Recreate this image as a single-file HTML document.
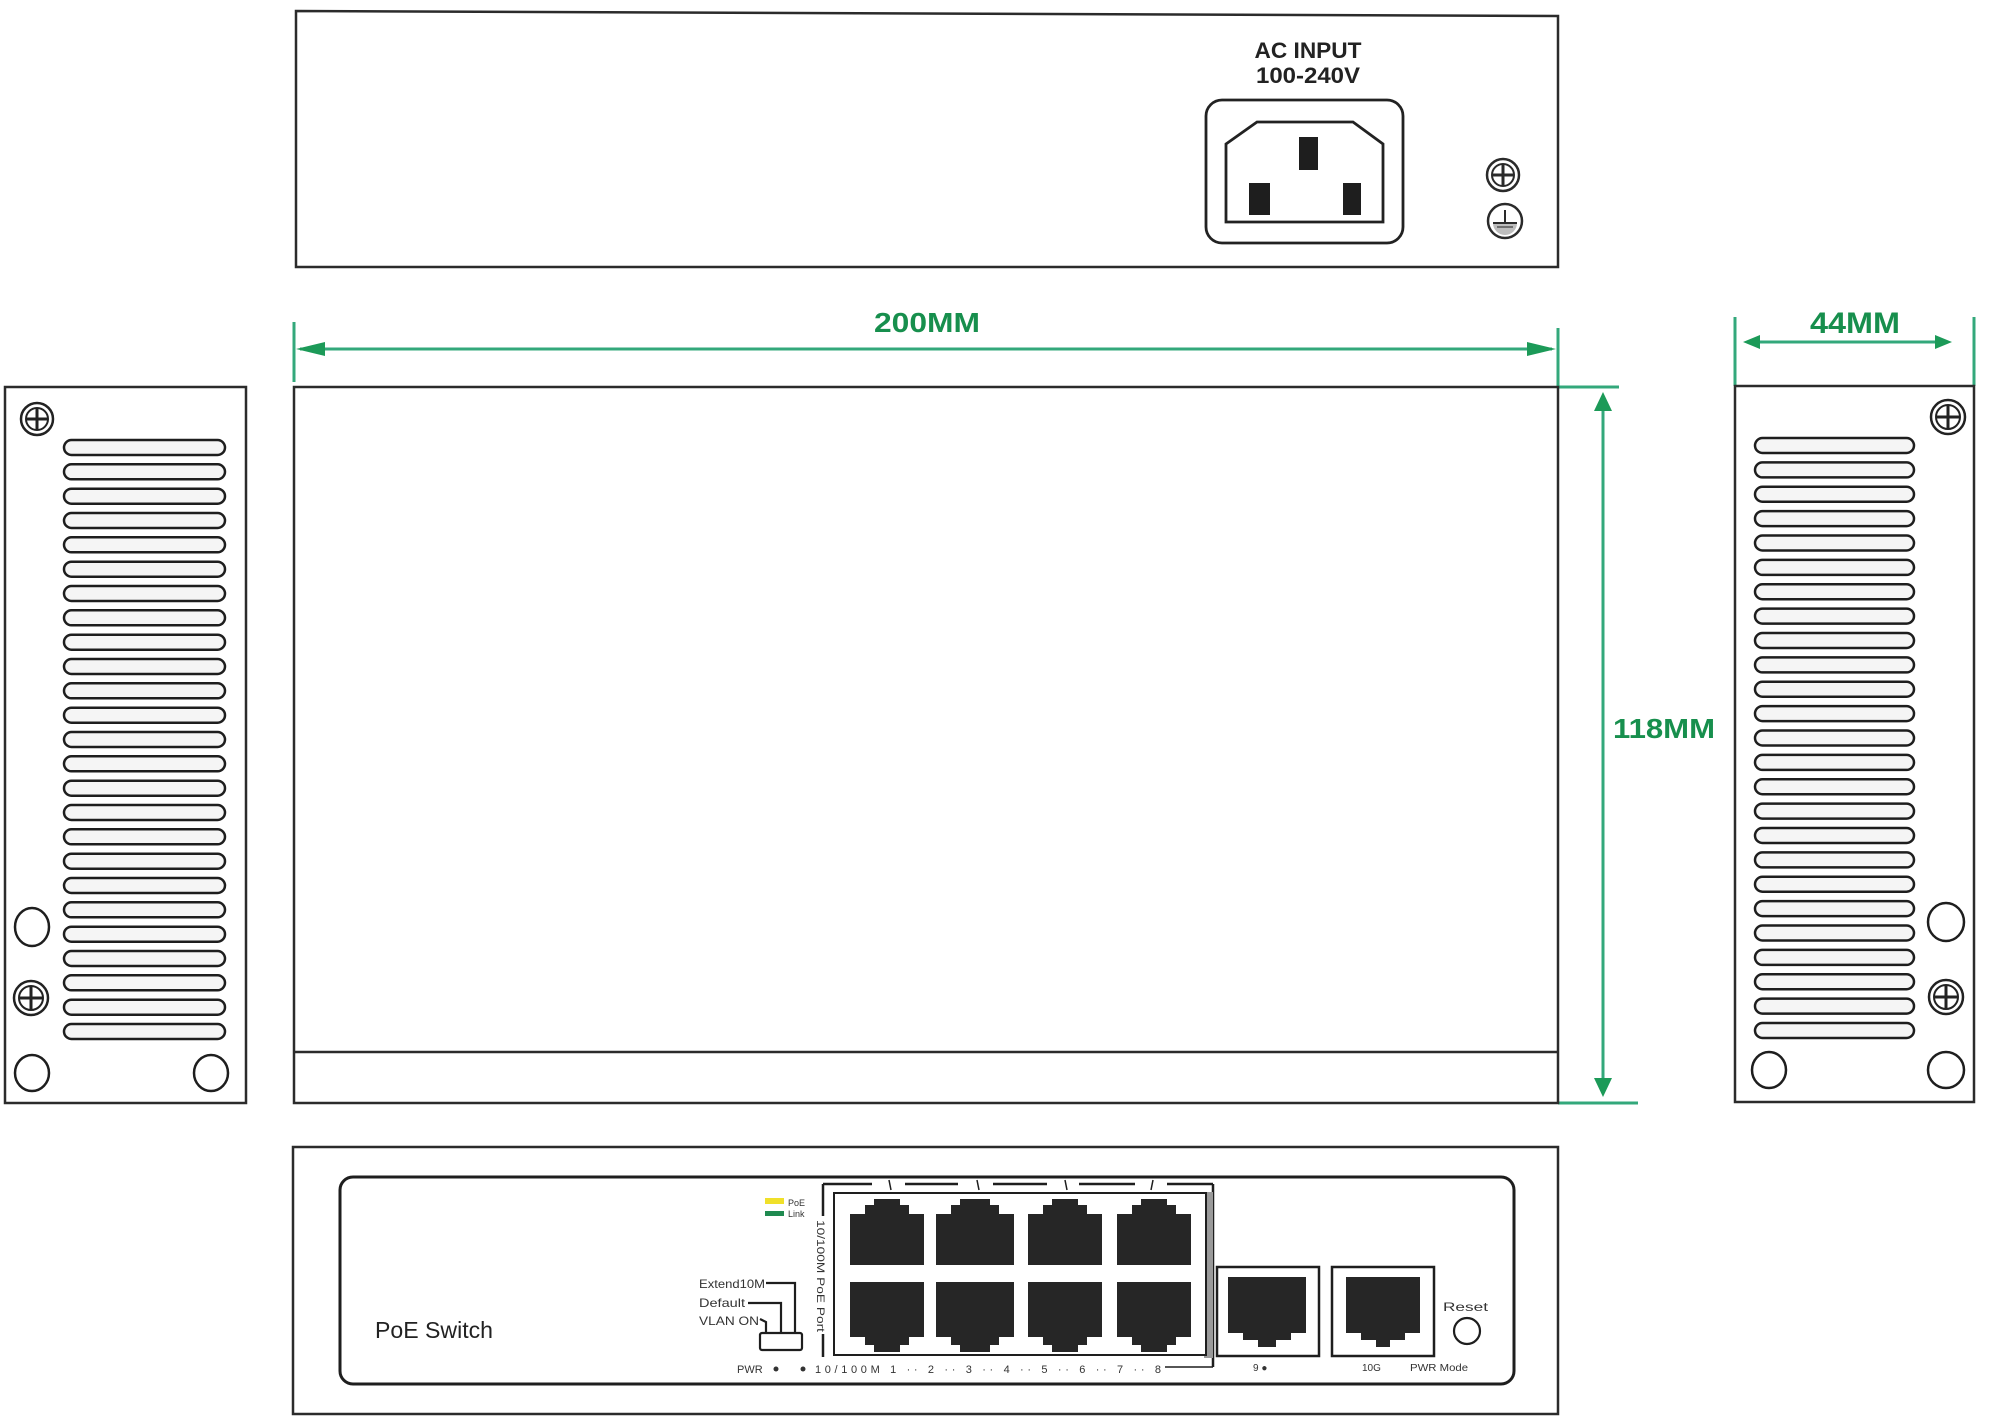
<!DOCTYPE html>
<html>
<head>
<meta charset="utf-8">
<style>
  html,body{margin:0;padding:0;background:#fff;}
  svg{display:block;}
  text{font-family:"Liberation Sans", sans-serif;}
</style>
</head>
<body>
<svg width="2000" height="1427" viewBox="0 0 2000 1427" xmlns="http://www.w3.org/2000/svg">
  <rect x="0" y="0" width="2000" height="1427" fill="#ffffff"/>

  <!-- ============ TOP (REAR) VIEW ============ -->
  <polygon points="296,11 1558,16 1558,267 296,267" fill="#fff" stroke="#2b2b2b" stroke-width="2.5"/>
  <text x="1308" y="58" font-size="22" font-weight="bold" fill="#222" text-anchor="middle" textLength="107" lengthAdjust="spacingAndGlyphs">AC INPUT</text>
  <text x="1308" y="83" font-size="22" font-weight="bold" fill="#222" text-anchor="middle" textLength="104" lengthAdjust="spacingAndGlyphs">100-240V</text>
  <!-- socket -->
  <rect x="1206" y="100" width="197" height="143" rx="16" fill="#fff" stroke="#222" stroke-width="2.8"/>
  <polygon points="1226,144 1257,122 1353,122 1383,144 1383,222 1226,222" fill="#fff" stroke="#222" stroke-width="2.8"/>
  <rect x="1299" y="137" width="19" height="33" fill="#1e1e1e"/>
  <rect x="1249" y="183" width="21" height="32" fill="#1e1e1e"/>
  <rect x="1343" y="183" width="18" height="32" fill="#1e1e1e"/>
  <!-- screw -->
  <g transform="translate(1503,175)">
    <circle r="16" fill="#fff" stroke="#2a2a2a" stroke-width="2.5"/>
    <circle r="11" fill="#fff" stroke="#2a2a2a" stroke-width="2"/>
    <line x1="-10" y1="0" x2="10" y2="0" stroke="#2a2a2a" stroke-width="3"/>
    <line x1="0" y1="-10" x2="0" y2="10" stroke="#2a2a2a" stroke-width="3"/>
  </g>
  <!-- ground -->
  <g transform="translate(1505,221)">
    <circle r="17" fill="#fff" stroke="#2a2a2a" stroke-width="2.5"/>
    <path d="M-12,2 L12,2 A12,12 0 0 1 -12,2 Z" fill="#bdbdbd"/>
    <line x1="0" y1="-11" x2="0" y2="2" stroke="#2a2a2a" stroke-width="2"/>
    <line x1="-12" y1="2" x2="12" y2="2" stroke="#2a2a2a" stroke-width="2"/>
    <line x1="-8" y1="6" x2="8" y2="6" stroke="#555" stroke-width="1.5"/>
  </g>

  <!-- ============ DIMENSIONS ============ -->
  <g stroke="#33a87b" stroke-width="3" fill="none">
    <!-- 200MM -->
    <line x1="294" y1="322" x2="294" y2="382"/>
    <line x1="1558" y1="328" x2="1558" y2="387"/>
    <line x1="300" y1="349" x2="1552" y2="349"/>
    <!-- 44MM -->
    <line x1="1735" y1="317" x2="1735" y2="386"/>
    <line x1="1974" y1="317" x2="1974" y2="386"/>
    <line x1="1748" y1="342" x2="1947" y2="342"/>
    <!-- 118MM -->
    <line x1="1558" y1="387" x2="1619" y2="387"/>
    <line x1="1558" y1="1103" x2="1638" y2="1103"/>
    <line x1="1603" y1="398" x2="1603" y2="1091"/>
  </g>
  <g fill="#1c9a58">
    <polygon points="296,349 325,342 325,356"/>
    <polygon points="1556,349 1527,342 1527,356"/>
    <polygon points="1743,342 1760,335 1760,349"/>
    <polygon points="1952,342 1935,335 1935,349"/>
    <polygon points="1603,392 1594,411 1612,411"/>
    <polygon points="1603,1097 1594,1078 1612,1078"/>
  </g>
  <text x="927" y="332" font-size="28" font-weight="bold" fill="#178f4d" text-anchor="middle" textLength="106" lengthAdjust="spacingAndGlyphs">200MM</text>
  <text x="1855" y="333" font-size="30" font-weight="bold" fill="#178f4d" text-anchor="middle" textLength="90" lengthAdjust="spacingAndGlyphs">44MM</text>
  <text x="1664" y="738" font-size="28" font-weight="bold" fill="#178f4d" text-anchor="middle" textLength="102" lengthAdjust="spacingAndGlyphs">118MM</text>

  <!-- ============ MAIN TOP VIEW ============ -->
  <rect x="294" y="387" width="1264" height="716" fill="#fff" stroke="#2b2b2b" stroke-width="2.5"/>
  <line x1="294" y1="1052" x2="1558" y2="1052" stroke="#2b2b2b" stroke-width="2.5"/>

  <!-- ============ LEFT SIDE PANEL ============ -->
  <rect x="5" y="387" width="241" height="716" fill="#fff" stroke="#2b2b2b" stroke-width="2.5"/>
  <g fill="#f5f5f5" stroke="#1e1e1e" stroke-width="2.5">
    <rect x="64" y="440" width="161" height="15" rx="7.5"/>
    <rect x="64" y="464.3" width="161" height="15" rx="7.5"/>
    <rect x="64" y="488.7" width="161" height="15" rx="7.5"/>
    <rect x="64" y="513" width="161" height="15" rx="7.5"/>
    <rect x="64" y="537.3" width="161" height="15" rx="7.5"/>
    <rect x="64" y="561.7" width="161" height="15" rx="7.5"/>
    <rect x="64" y="586" width="161" height="15" rx="7.5"/>
    <rect x="64" y="610.3" width="161" height="15" rx="7.5"/>
    <rect x="64" y="634.7" width="161" height="15" rx="7.5"/>
    <rect x="64" y="659" width="161" height="15" rx="7.5"/>
    <rect x="64" y="683.3" width="161" height="15" rx="7.5"/>
    <rect x="64" y="707.7" width="161" height="15" rx="7.5"/>
    <rect x="64" y="732" width="161" height="15" rx="7.5"/>
    <rect x="64" y="756.3" width="161" height="15" rx="7.5"/>
    <rect x="64" y="780.7" width="161" height="15" rx="7.5"/>
    <rect x="64" y="805" width="161" height="15" rx="7.5"/>
    <rect x="64" y="829.3" width="161" height="15" rx="7.5"/>
    <rect x="64" y="853.7" width="161" height="15" rx="7.5"/>
    <rect x="64" y="878" width="161" height="15" rx="7.5"/>
    <rect x="64" y="902.3" width="161" height="15" rx="7.5"/>
    <rect x="64" y="926.7" width="161" height="15" rx="7.5"/>
    <rect x="64" y="951" width="161" height="15" rx="7.5"/>
    <rect x="64" y="975.3" width="161" height="15" rx="7.5"/>
    <rect x="64" y="999.7" width="161" height="15" rx="7.5"/>
    <rect x="64" y="1024" width="161" height="15" rx="7.5"/>
  </g>
  <g fill="#fff" stroke="#1e1e1e" stroke-width="2.5">
    <ellipse cx="32" cy="927" rx="17" ry="19"/>
    <ellipse cx="32" cy="1073" rx="17" ry="18"/>
    <ellipse cx="211" cy="1073" rx="17" ry="18"/>
  </g>
  <g transform="translate(37,419)">
    <circle r="16" fill="#fff" stroke="#222" stroke-width="2.5"/>
    <circle r="11" fill="#fff" stroke="#222" stroke-width="2"/>
    <line x1="-10" y1="0" x2="10" y2="0" stroke="#222" stroke-width="3"/>
    <line x1="0" y1="-10" x2="0" y2="10" stroke="#222" stroke-width="3"/>
  </g>
  <g transform="translate(31,998)">
    <circle r="17" fill="#fff" stroke="#222" stroke-width="2.5"/>
    <circle r="12" fill="#fff" stroke="#222" stroke-width="2"/>
    <line x1="-11" y1="0" x2="11" y2="0" stroke="#222" stroke-width="3"/>
    <line x1="0" y1="-11" x2="0" y2="11" stroke="#222" stroke-width="3"/>
  </g>

  <!-- ============ RIGHT SIDE PANEL ============ -->
  <rect x="1735" y="386" width="239" height="716" fill="#fff" stroke="#2b2b2b" stroke-width="2.5"/>
  <g fill="#f5f5f5" stroke="#1e1e1e" stroke-width="2.5">
    <rect x="1755" y="438" width="159" height="15" rx="7.5"/>
    <rect x="1755" y="462.4" width="159" height="15" rx="7.5"/>
    <rect x="1755" y="486.75" width="159" height="15" rx="7.5"/>
    <rect x="1755" y="511.1" width="159" height="15" rx="7.5"/>
    <rect x="1755" y="535.5" width="159" height="15" rx="7.5"/>
    <rect x="1755" y="559.9" width="159" height="15" rx="7.5"/>
    <rect x="1755" y="584.25" width="159" height="15" rx="7.5"/>
    <rect x="1755" y="608.6" width="159" height="15" rx="7.5"/>
    <rect x="1755" y="633" width="159" height="15" rx="7.5"/>
    <rect x="1755" y="657.4" width="159" height="15" rx="7.5"/>
    <rect x="1755" y="681.75" width="159" height="15" rx="7.5"/>
    <rect x="1755" y="706.1" width="159" height="15" rx="7.5"/>
    <rect x="1755" y="730.5" width="159" height="15" rx="7.5"/>
    <rect x="1755" y="754.9" width="159" height="15" rx="7.5"/>
    <rect x="1755" y="779.25" width="159" height="15" rx="7.5"/>
    <rect x="1755" y="803.6" width="159" height="15" rx="7.5"/>
    <rect x="1755" y="828" width="159" height="15" rx="7.5"/>
    <rect x="1755" y="852.4" width="159" height="15" rx="7.5"/>
    <rect x="1755" y="876.75" width="159" height="15" rx="7.5"/>
    <rect x="1755" y="901.1" width="159" height="15" rx="7.5"/>
    <rect x="1755" y="925.5" width="159" height="15" rx="7.5"/>
    <rect x="1755" y="949.9" width="159" height="15" rx="7.5"/>
    <rect x="1755" y="974.25" width="159" height="15" rx="7.5"/>
    <rect x="1755" y="998.6" width="159" height="15" rx="7.5"/>
    <rect x="1755" y="1023" width="159" height="15" rx="7.5"/>
  </g>
  <g fill="#fff" stroke="#1e1e1e" stroke-width="2.5">
    <ellipse cx="1946" cy="922" rx="18" ry="19"/>
    <ellipse cx="1769" cy="1070" rx="17" ry="18"/>
    <ellipse cx="1946" cy="1070" rx="18" ry="18"/>
  </g>
  <g transform="translate(1948,417)">
    <circle r="17" fill="#fff" stroke="#222" stroke-width="2.5"/>
    <circle r="12" fill="#fff" stroke="#222" stroke-width="2"/>
    <line x1="-11" y1="0" x2="11" y2="0" stroke="#222" stroke-width="3"/>
    <line x1="0" y1="-11" x2="0" y2="11" stroke="#222" stroke-width="3"/>
  </g>
  <g transform="translate(1946,997)">
    <circle r="17" fill="#fff" stroke="#222" stroke-width="2.5"/>
    <circle r="12" fill="#fff" stroke="#222" stroke-width="2"/>
    <line x1="-11" y1="0" x2="11" y2="0" stroke="#222" stroke-width="3"/>
    <line x1="0" y1="-11" x2="0" y2="11" stroke="#222" stroke-width="3"/>
  </g>

  <!-- ============ FRONT PANEL ============ -->
  <rect x="293" y="1147" width="1265" height="267" fill="#fff" stroke="#2b2b2b" stroke-width="2.5"/>
  <rect x="340" y="1177" width="1174" height="207" rx="13" fill="#fff" stroke="#1e1e1e" stroke-width="3"/>
  <text x="375" y="1338" font-size="23" fill="#222" textLength="118" lengthAdjust="spacingAndGlyphs">PoE Switch</text>

  <!-- LEDs -->
  <rect x="765" y="1198" width="19" height="6" fill="#f0e02a"/>
  <rect x="765" y="1211" width="19" height="5" fill="#1f8a50"/>
  <text x="788" y="1206" font-size="9" fill="#333">PoE</text>
  <text x="788" y="1217" font-size="9" fill="#333">Link</text>

  <!-- DIP switch labels -->
  <text x="699" y="1288" font-size="12" fill="#333" textLength="66" lengthAdjust="spacingAndGlyphs">Extend10M</text>
  <text x="699" y="1307" font-size="12" fill="#333" textLength="46" lengthAdjust="spacingAndGlyphs">Default</text>
  <text x="699" y="1325" font-size="12" fill="#333" textLength="60" lengthAdjust="spacingAndGlyphs">VLAN ON</text>
  <g stroke="#1e1e1e" stroke-width="2.2" fill="none">
    <polyline points="766,1283 795,1283 795,1333"/>
    <polyline points="748,1303 781,1303 781,1333"/>
    <polyline points="760,1319 766,1322 766,1333"/>
  </g>
  <rect x="760" y="1333" width="42" height="17" rx="2" fill="#fff" stroke="#1e1e1e" stroke-width="2.2"/>

  <!-- 8-port bracket -->
  <g stroke="#1e1e1e" stroke-width="2.5" fill="none">
    <line x1="823" y1="1184" x2="823" y2="1216"/>
    <line x1="823" y1="1334" x2="823" y2="1357"/>
    <line x1="823" y1="1184" x2="872" y2="1184"/>
    <line x1="905" y1="1184" x2="958" y2="1184"/>
    <line x1="993" y1="1184" x2="1047" y2="1184"/>
    <line x1="1079" y1="1184" x2="1135" y2="1184"/>
    <line x1="1167" y1="1184" x2="1213" y2="1184"/>
    <line x1="1213" y1="1184" x2="1213" y2="1367"/>
    <line x1="1165" y1="1367" x2="1213" y2="1367" stroke-width="1.5"/>
    <line x1="889" y1="1180" x2="891" y2="1190" stroke-width="1.5"/>
    <line x1="977" y1="1180" x2="979" y2="1190" stroke-width="1.5"/>
    <line x1="1065" y1="1180" x2="1067" y2="1190" stroke-width="1.5"/>
    <line x1="1153" y1="1180" x2="1151" y2="1190" stroke-width="1.5"/>
  </g>
  <text transform="translate(817,1220) rotate(90)" font-size="11" fill="#333" textLength="112" lengthAdjust="spacingAndGlyphs">10/100M PoE Port</text>
  <rect x="1204" y="1192" width="9" height="166" fill="#9a9a9a"/>
  <rect x="834" y="1193" width="372" height="162" fill="#fff" stroke="#1e1e1e" stroke-width="2"/>

  <!-- 8 jacks -->
  <g fill="#262626">
    <polygon points="850,1265 850,1214 865,1214 865,1205 874,1205 874,1199 900,1199 900,1205 909,1205 909,1214 924,1214 924,1265"/>
    <polygon points="936,1265 936,1214 951,1214 951,1205 960,1205 960,1199 990,1199 990,1205 999,1205 999,1214 1014,1214 1014,1265"/>
    <polygon points="1028,1265 1028,1214 1043,1214 1043,1205 1052,1205 1052,1199 1078,1199 1078,1205 1087,1205 1087,1214 1102,1214 1102,1265"/>
    <polygon points="1117,1265 1117,1214 1132,1214 1132,1205 1141,1205 1141,1199 1167,1199 1167,1205 1176,1205 1176,1214 1191,1214 1191,1265"/>

    <polygon points="850,1282 850,1337 865,1337 865,1345 874,1345 874,1352 900,1352 900,1345 909,1345 909,1337 924,1337 924,1282"/>
    <polygon points="936,1282 936,1337 951,1337 951,1345 960,1345 960,1352 990,1352 990,1345 999,1345 999,1337 1014,1337 1014,1282"/>
    <polygon points="1028,1282 1028,1337 1043,1337 1043,1345 1052,1345 1052,1352 1078,1352 1078,1345 1087,1345 1087,1337 1102,1337 1102,1282"/>
    <polygon points="1117,1282 1117,1337 1132,1337 1132,1345 1141,1345 1141,1352 1167,1352 1167,1345 1176,1345 1176,1337 1191,1337 1191,1282"/>
  </g>

  <!-- bottom labels -->
  <text x="737" y="1373" font-size="11" fill="#333">PWR</text>
  <circle cx="776" cy="1369" r="2.5" fill="#333"/>
  <circle cx="803" cy="1369" r="2.5" fill="#333"/>
  <text x="815" y="1373" font-size="11" fill="#333" textLength="346" lengthAdjust="spacing">10/100M  1 ·· 2 ··  3 ·· 4 ··  5 ·· 6 ··  7 ·· 8</text>

  <!-- uplink ports -->
  <rect x="1217" y="1267" width="102" height="89" fill="#fff" stroke="#1e1e1e" stroke-width="2.5"/>
  <rect x="1332" y="1267" width="102" height="89" fill="#fff" stroke="#1e1e1e" stroke-width="2.5"/>
  <g fill="#262626">
    <polygon points="1228,1277 1306,1277 1306,1333 1291,1333 1291,1340 1276,1340 1276,1347 1258,1347 1258,1340 1243,1340 1243,1333 1228,1333"/>
    <polygon points="1346,1277 1420,1277 1420,1333 1405,1333 1405,1340 1390,1340 1390,1347 1376,1347 1376,1340 1361,1340 1361,1333 1346,1333"/>
  </g>
  <text x="1253" y="1371" font-size="10" fill="#333">9 ●</text>
  <text x="1362" y="1371" font-size="10" fill="#333">10G</text>
  <text x="1410" y="1371" font-size="10" fill="#333" textLength="58" lengthAdjust="spacingAndGlyphs">PWR Mode</text>
  <text x="1443" y="1311" font-size="12" fill="#333" textLength="45" lengthAdjust="spacingAndGlyphs">Reset</text>
  <circle cx="1467" cy="1331" r="13" fill="#fff" stroke="#1e1e1e" stroke-width="2.2"/>
</svg>
</body>
</html>
